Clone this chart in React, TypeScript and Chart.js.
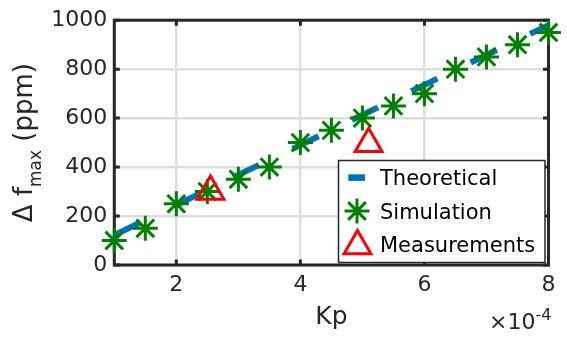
import React, { useEffect, useRef } from 'react';
import { Chart, registerables } from 'chart.js';

Chart.register(...registerables);

const simKp = [1, 1.5, 2, 2.5, 3, 3.5, 4, 4.5, 5, 5.5, 6, 6.5, 7, 7.5, 8];
const simVals = [100, 150, 250, 300, 350, 400, 500, 550, 600, 650, 700, 800, 850, 900, 950];
const theoKp = [1, 2, 3, 4, 5, 6, 7, 8];
const theoVals = [122, 245, 368, 490, 613, 736, 858, 980];
const measKp = [2.55, 5.1];
const measVals = [300, 495];
const xTickVals = [2, 4, 6, 8];
const yTickVals = [0, 200, 400, 600, 800, 1000];
const legendLabels = ['Theoretical', 'Simulation', 'Measurements'];

const FONT = '"DejaVu Sans"';
const AX = '#262626';
const BLUE = '#0072BD';
const GREEN = '#008000';
const RED = '#FF0000';

function drawStar(ctx: CanvasRenderingContext2D, x: number, y: number, r: number) {
  ctx.beginPath();
  for (let i = 0; i < 4; i++) {
    const a = (i * Math.PI) / 4;
    ctx.moveTo(x - Math.cos(a) * r, y - Math.sin(a) * r);
    ctx.lineTo(x + Math.cos(a) * r, y + Math.sin(a) * r);
  }
  ctx.stroke();
}

function drawTri(ctx: CanvasRenderingContext2D, x: number, y: number, r: number) {
  ctx.beginPath();
  let rad = 0;
  ctx.moveTo(x + Math.sin(rad) * r, y - Math.cos(rad) * r);
  rad += (2 * Math.PI) / 3;
  ctx.lineTo(x + Math.sin(rad) * r, y - Math.cos(rad) * r);
  rad += (2 * Math.PI) / 3;
  ctx.lineTo(x + Math.sin(rad) * r, y - Math.cos(rad) * r);
  ctx.closePath();
  ctx.stroke();
}

const decor = {
  id: 'decor',
  beforeDatasetsDraw(chart: any) {
    const { ctx, chartArea: a, scales } = chart;
    ctx.save();
    ctx.strokeStyle = AX;
    ctx.lineWidth = 3;
    ctx.lineCap = 'butt';
    ctx.beginPath();
    const tl = 5.5;
    for (const v of xTickVals) {
      const px = scales.x.getPixelForValue(v);
      ctx.moveTo(px, a.bottom);
      ctx.lineTo(px, a.bottom - tl);
      ctx.moveTo(px, a.top);
      ctx.lineTo(px, a.top + tl);
    }
    for (const v of yTickVals) {
      const py = scales.y.getPixelForValue(v);
      ctx.moveTo(a.left, py);
      ctx.lineTo(a.left + tl, py);
      ctx.moveTo(a.right, py);
      ctx.lineTo(a.right - tl, py);
    }
    ctx.stroke();
    ctx.lineJoin = 'miter';
    ctx.strokeRect(a.left, a.top, a.right - a.left, a.bottom - a.top);
    ctx.restore();
  },
  afterDraw(chart: any) {
    const { ctx, chartArea: a } = chart;
    ctx.save();
    ctx.fillStyle = AX;
    ctx.textAlign = 'left';
    ctx.textBaseline = 'alphabetic';

    // Y axis title with subscript
    ctx.save();
    ctx.translate(32, (a.top + a.bottom) / 2);
    ctx.rotate(-Math.PI / 2);
    const mainF = `26px ${FONT}`;
    const subF = `17px ${FONT}`;
    ctx.font = mainF;
    const t1 = '\u0394 f';
    const t3 = ' (ppm)';
    const w1 = ctx.measureText(t1).width;
    const w3 = ctx.measureText(t3).width;
    ctx.font = subF;
    const t2 = 'max';
    const w2 = ctx.measureText(t2).width;
    const x0 = -(w1 + w2 + w3) / 2;
    ctx.font = mainF;
    ctx.fillText(t1, x0, 0);
    ctx.font = subF;
    ctx.fillText(t2, x0 + w1, 9);
    ctx.font = mainF;
    ctx.fillText(t3, x0 + w1 + w2, 0);
    ctx.restore();

    // X axis title
    ctx.font = `25px ${FONT}`;
    ctx.textAlign = 'center';
    ctx.fillText('Kp', (a.left + a.right) / 2, 323.5);

    // exponent
    ctx.textAlign = 'left';
    ctx.font = `22px ${FONT}`;
    const ex = '\u00d710';
    ctx.fillText(ex, 489, 328.5);
    const wex = ctx.measureText(ex).width;
    ctx.font = `16px ${FONT}`;
    ctx.fillText('-4', 489 + wex, 320);

    // Legend
    const lx = 338.5, ly = 160.5, lw = 206.5, lh = 102;
    ctx.fillStyle = '#ffffff';
    ctx.fillRect(lx, ly, lw, lh);
    ctx.strokeStyle = AX;
    ctx.lineWidth = 1.5;
    ctx.strokeRect(lx, ly, lw, lh);

    const rows = [177.6, 211, 244.4];
    const mx = 357;
    ctx.fillStyle = BLUE;
    ctx.fillRect(348.3, rows[0] - 3.3, 16.7, 6.6);
    ctx.strokeStyle = GREEN;
    ctx.lineWidth = 3;
    drawStar(ctx, mx, rows[1], 12.5);
    ctx.strokeStyle = RED;
    ctx.lineWidth = 3;
    ctx.lineJoin = 'miter';
    drawTri(ctx, mx + 0.5, rows[2] + 1.5, 15.5);

    ctx.fillStyle = '#000000';
    ctx.font = `21px ${FONT}`;
    legendLabels.forEach((t, i) => {
      ctx.fillText(t, 380, rows[i] + 7.6);
    });
    ctx.restore();
  },
};

export default function App() {
  const ref = useRef<HTMLCanvasElement | null>(null);
  useEffect(() => {
    if (!ref.current) return;
    Chart.defaults.font.family = FONT;
    const chart = new Chart(ref.current, {
      type: 'scatter',
      data: {
        datasets: [
          {
            label: legendLabels[2],
            data: measKp.map((x, i) => ({ x, y: measVals[i] })),
            showLine: false,
            pointStyle: 'triangle',
            pointRadius: 15.5,
            pointHoverRadius: 15.5,
            pointBorderWidth: 3,
            borderColor: RED,
            backgroundColor: 'rgba(0,0,0,0)',
            order: 0,
            clip: false as any,
          },
          {
            label: legendLabels[1],
            data: simKp.map((x, i) => ({ x, y: simVals[i] })),
            showLine: false,
            pointStyle: 'star',
            pointRadius: 12.5,
            pointHoverRadius: 12.5,
            pointBorderWidth: 3,
            borderColor: GREEN,
            backgroundColor: GREEN,
            order: 1,
            clip: false as any,
          },
          {
            label: legendLabels[0],
            data: theoKp.map((x, i) => ({ x, y: theoVals[i] })),
            showLine: true,
            borderColor: BLUE,
            backgroundColor: BLUE,
            borderWidth: 6,
            borderDash: [29, 37],
            borderCapStyle: 'butt',
            pointRadius: 0,
            tension: 0,
            order: 2,
            clip: false as any,
          },
        ],
      },
      options: {
        responsive: false,
        animation: false,
        events: [],
        layout: { padding: { left: 0, top: 15, right: 13.7, bottom: 0 } },
        plugins: {
          legend: { display: false },
          tooltip: { enabled: false },
          title: { display: false },
        },
        scales: {
          x: {
            type: 'linear',
            min: 1,
            max: 8,
            afterBuildTicks: (s: any) => {
              s.ticks = xTickVals.map((v) => ({ value: v }));
            },
            afterFit: (s: any) => {
              s.height = 74;
            },
            ticks: {
              font: { size: 22, family: FONT },
              color: AX,
              padding: 7,
              maxRotation: 0,
              autoSkip: false,
              callback: (v: any) => String(v),
            },
            grid: { color: 'rgb(222,222,222)', lineWidth: 2.5, drawTicks: false },
            border: { display: false },
          },
          y: {
            type: 'linear',
            min: 0,
            max: 1000,
            afterBuildTicks: (s: any) => {
              s.ticks = yTickVals.map((v) => ({ value: v }));
            },
            afterFit: (s: any) => {
              s.width = 114.3;
            },
            ticks: {
              font: { size: 22, family: FONT },
              color: AX,
              padding: 7,
              autoSkip: false,
              callback: (v: any) => String(v),
            },
            grid: { color: 'rgb(222,222,222)', lineWidth: 2.5, drawTicks: false },
            border: { display: false },
          },
        },
      },
      plugins: [decor],
    } as any);
    return () => chart.destroy();
  }, []);
  return (
    <div style={{ position: 'absolute', left: 0, top: 0, width: 567, height: 339, background: '#fff' }}>
      <canvas ref={ref} width={567} height={339} style={{ display: 'block' }} />
    </div>
  );
}
